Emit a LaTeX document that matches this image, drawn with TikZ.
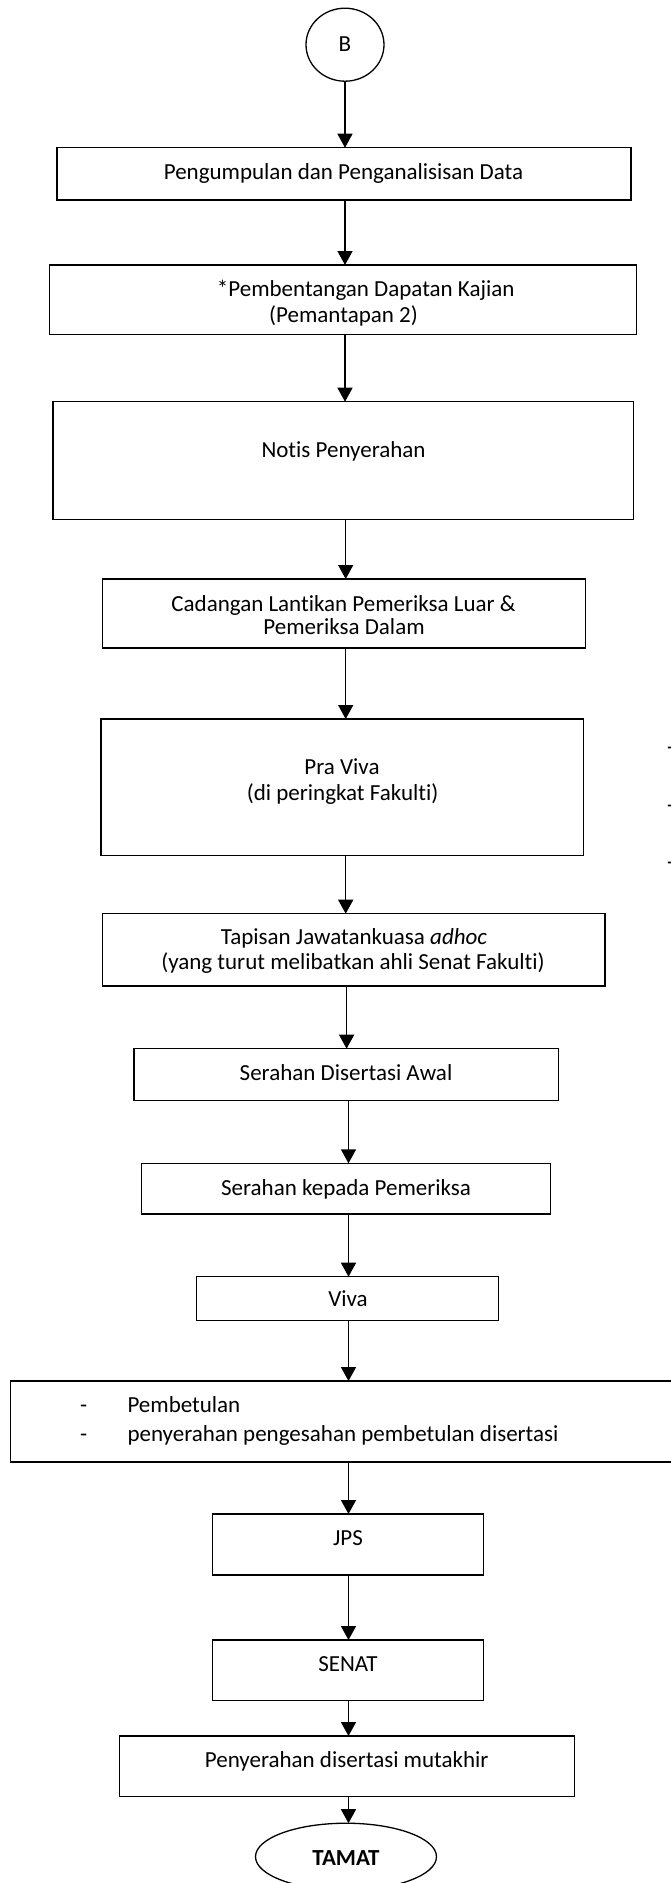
\documentclass[tikz,border=0pt]{standalone}
\usepackage{fontspec}
\setmainfont{Carlito}[Ligatures=NoCommon]
\usetikzlibrary{arrows.meta,shapes.geometric}
\begin{document}
\begin{tikzpicture}[x=1pt,y=-1pt,
  every node/.style={font=\fontsize{23}{25}\selectfont, inner sep=0pt, outer sep=0pt},
  box/.style={draw, line width=1.3pt, rectangle},
  oval/.style={draw, line width=1.3pt, ellipse},
  txt/.style={anchor=base},
  ltxt/.style={anchor=base west},
  arr/.style={line width=1.4pt, -{Triangle[length=14pt,width=15pt]}}]
\useasboundingbox (0,0) rectangle (671,1883);
\clip (0,0) rectangle (671,1883);
% spine coordinates for vertical connectors
\coordinate (sa) at (345,0);
\coordinate (sb) at (345.7,0);
\coordinate (sc) at (346.6,0);
\coordinate (sd) at (348.5,0);
% shapes
\node[oval, minimum width=78pt, minimum height=73pt] (B) at (345,44.7) {};
\node[box, minimum width=574pt, minimum height=52.3pt] (b1) at (344,173.85) {};
\node[box, minimum width=587.5pt, minimum height=69.3pt] (b2) at (342.95,299.65) {};
\node[box, minimum width=580.3pt, minimum height=117.6pt] (b3) at (343.15,460.5) {};
\node[box, minimum width=483.1pt, minimum height=69pt] (b4) at (344.25,613.5) {};
\node[box, minimum width=482.7pt, minimum height=136.3pt] (b5) at (342.35,787.15) {};
\node[box, minimum width=502.3pt, minimum height=72.3pt] (b6) at (353.85,949.85) {};
\node[box, minimum width=424.8pt, minimum height=52pt] (b7) at (346.4,1074.7) {};
\node[box, minimum width=409.1pt, minimum height=50.7pt] (b8) at (346.15,1188.65) {};
\node[box, minimum width=301.7pt, minimum height=44pt] (b9) at (347.65,1298.7) {};
\node[box, minimum width=689.3pt, minimum height=81pt] (b10) at (355.35,1421.5) {};
\node[box, minimum width=270.8pt, minimum height=61pt] (b11) at (348.1,1544.5) {};
\node[box, minimum width=270.8pt, minimum height=60.7pt] (b12) at (348.1,1670.35) {};
\node[box, minimum width=454.4pt, minimum height=60.7pt] (b13) at (347,1766.35) {};
\node[oval, minimum width=181pt, minimum height=67pt] (end) at (346,1856.7) {};
% texts
\node[txt] (tB) at (345,51.7) {B};
\node[txt] (t1) at (343.5,179.3) {Pengumpulan dan Penganalisisan Data};
\node[txt] (t2a) at (365.7,296.7) {*Pembentangan Dapatan Kajian};
\node[txt] (t2b) at (343.5,322) {(Pemantapan 2)};
\node[txt] (t3) at (343.5,457.7) {Notis Penyerahan};
\node[txt] (t4a) at (343.5,611) {Cadangan Lantikan Pemeriksa Luar \&};
\node[txt] (t4b) at (344,634.3) {Pemeriksa Dalam};
\node[txt] (t5a) at (342,774.3) {Pra Viva};
\node[txt] (t5b) at (342.6,800) {(di peringkat Fakulti)};
\node[txt] (t6a) at (354,944) {Tapisan Jawatankuasa \textit{adhoc}};
\node[txt] (t6b) at (353,969.3) {(yang turut melibatkan ahli Senat Fakulti)};
\node[txt] (t7) at (346,1080.7) {Serahan Disertasi Awal};
\node[txt] (t8) at (346,1195) {Serahan kepada Pemeriksa};
\node[txt] (t9) at (348,1306.7) {Viva};
\node[ltxt] (d10a) at (80,1412.3) {-};
\node[ltxt] (t10a) at (127.5,1412.3) {Pembetulan};
\node[ltxt] (d10b) at (80,1441) {-};
\node[ltxt] (t10b) at (127.5,1441) {penyerahan pengesahan pembetulan disertasi};
\node[txt] (t11) at (348,1545.7) {JPS};
\node[txt] (t12) at (348,1671) {SENAT};
\node[txt] (t13) at (346.7,1767.3) {Penyerahan disertasi mutakhir};
\node[txt, font=\fontsize{23}{25}\selectfont\bfseries] (tend) at (346,1865) {TAMAT};
% cut-off marks at right edge
\node[ltxt] (m1) at (667,754.5) {-};
\node[ltxt] (m2) at (667,812.5) {-};
\node[ltxt] (m3) at (667,869.5) {-};
% connectors
\draw[arr] (B.south -| sa) -- (b1.north -| sa);
\draw[arr] (b1.south -| sa) -- (b2.north -| sa);
\draw[arr] (b2.south -| sa) -- (b3.north -| sa);
\draw[arr] (b3.south -| sb) -- (b4.north -| sb);
\draw[arr] (b4.south -| sb) -- (b5.north -| sb);
\draw[arr] (b5.south -| sb) -- (b6.north -| sb);
\draw[arr] (b6.south -| sc) -- (b7.north -| sc);
\draw[arr] (b7.south -| sd) -- (b8.north -| sd);
\draw[arr] (b8.south -| sd) -- (b9.north -| sd);
\draw[arr] (b9.south -| sd) -- (b10.north -| sd);
\draw[arr] (b10.south -| sd) -- (b11.north -| sd);
\draw[arr] (b11.south -| sd) -- (b12.north -| sd);
\draw[arr] (b12.south -| sd) -- (b13.north -| sd);
\draw[arr] (b13.south -| sd) -- (end.north -| sd);
\end{tikzpicture}
\end{document}
